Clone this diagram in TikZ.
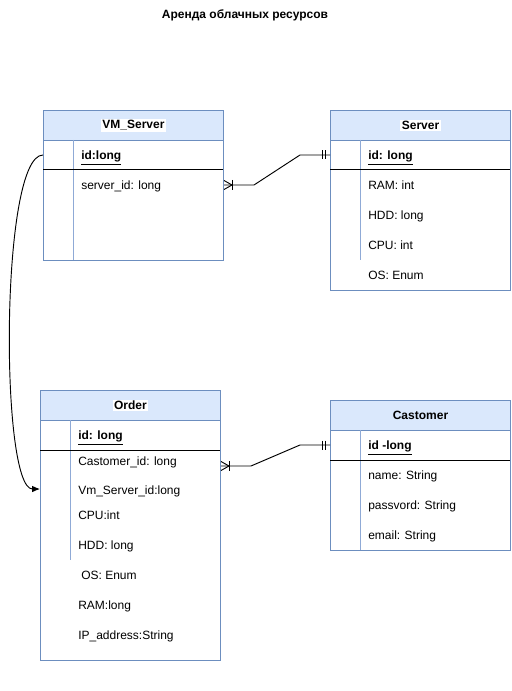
\documentclass[tikz,border=0pt]{standalone}
\usepackage{fontspec}
\setmainfont{Liberation Sans}
\usetikzlibrary{arrows.meta,calc}
\definecolor{hdrfill}{HTML}{DAE8FC}
\definecolor{hdrline}{HTML}{6C8EBF}
\definecolor{innerline}{HTML}{8FAAD6}

\begin{document}
\begin{tikzpicture}[x=0.75pt,y=-0.75pt,
  font=\fontsize{9}{11}\selectfont,
  tbl/.style={draw=hdrline, line width=0.75pt, fill=white, inner sep=0pt, anchor=north west},
  hdr/.style={draw=hdrline, line width=0.75pt, fill=hdrfill, inner sep=0pt, anchor=north west, minimum height=22.5pt},
  htitle/.style={font=\fontsize{9}{11}\selectfont\bfseries, inner sep=1pt},
  htitlebg/.style={htitle, fill=white},
  row/.style={anchor=base west, inner sep=0pt},
  sep/.style={draw=black, line width=0.75pt},
  innerv/.style={draw=innerline, line width=0.75pt},
  conn/.style={draw=black, line width=0.7pt},
  erbar/.style={draw=black, line width=0.7pt}]
\useasboundingbox (0,0) rectangle (511,691);

% title
\node[htitle] (title) at (245,15) {Аренда облачных ресурсов};

% ---------- VM_Server ----------
\node[tbl, minimum width=135pt, minimum height=112.5pt] (vm) at (43,110) {};
\node[hdr, minimum width=135pt] (vmh) at (43,110) {};
\node[htitlebg] at (vmh) {VM\_Server};
\draw[innerv] (73,140) -- (73,260);
\draw[sep] (43,170) -- (223,170);
\node[row] (vm1) at (81,159.5) {\textbf{\underline{id:long}}};
\node[row] (vm2) at (81,189.5) {server\_id: long};

% ---------- Server ----------
\node[tbl, minimum width=135pt, minimum height=135pt] (sv) at (330,110) {};
\node[hdr, minimum width=135pt] (svh) at (330,110) {};
\node[htitlebg] at (svh) {Server};
\draw[innerv] (360,140) -- (360,260);
\draw[sep] (330,170) -- (510,170);
\node[row] (sv1) at (368,159.5) {\textbf{\underline{id: long}}};
\node[row] (sv2) at (368,189.5) {RAM: int};
\node[row] (sv3) at (368,219.5) {HDD: long};
\node[row] (sv4) at (368,249.5) {CPU: int};
\node[row] (sv5) at (368,279.5) {OS: Enum};

% ---------- Order ----------
\node[tbl, minimum width=135pt, minimum height=202.5pt] (od) at (40,390) {};
\node[hdr, minimum width=135pt] (odh) at (40,390) {};
\node[htitlebg] at (odh) {Order};
\draw[innerv] (70,420) -- (70,560);
\draw[sep] (40,450) -- (220,450);
\node[row] (od1) at (78,439.5) {\textbf{\underline{id: long}}};
\node[row] (od2) at (78,465.5) {Castomer\_id: long};
\node[row] (od3) at (78,494.5) {Vm\_Server\_id:long};
\node[row] (od4) at (78,519.5) {CPU:int};
\node[row] (od5) at (78,549.5) {HDD: long};
\node[row] (od6) at (81,579.5) {OS: Enum};
\node[row] (od7) at (78,609.5) {RAM:long};
\node[row] (od8) at (78,639.5) {IP\_address:String};

% ---------- Castomer ----------
\node[tbl, minimum width=135pt, minimum height=112.5pt] (cu) at (330,400) {};
\node[hdr, minimum width=135pt] (cuh) at (330,400) {};
\node[htitle] at (cuh) {Castomer};
\draw[innerv] (360,430) -- (360,550);
\draw[sep] (330,460) -- (510,460);
\node[row] (cu1) at (368,449.5) {\textbf{\underline{id -long}}};
\node[row] (cu2) at (368,479.5) {name: String};
\node[row] (cu3) at (368,509.5) {passvord: String};
\node[row] (cu4) at (368,539.5) {email: String};

% ---------- relations ----------
% VM_Server.server_id  >|----||  Server.id
\coordinate (a1) at ($(vm2.base -| vm.east)+(0,-4.5)$);
\coordinate (b1) at ($(sv1.base -| sv.west)+(0,-4.5)$);
\draw[conn] (a1) -- ++(30,0) -- ($(b1)+(-30,0)$) -- (b1);
\draw[erbar] ($(a1)+(0,-4.5)$) -- ($(a1)+(8,0)$) -- ($(a1)+(0,4.5)$);
\draw[erbar] ($(a1)+(8,-5)$) -- ($(a1)+(8,5)$);
\draw[erbar] ($(b1)+(-8,-4.5)$) -- ($(b1)+(-8,4.5)$);
\draw[erbar] ($(b1)+(-5,-4.5)$) -- ($(b1)+(-5,4.5)$);

% Order.Castomer_id  >|----||  Castomer.id
\coordinate (a2) at ($(od2.base -| od.east)+(0,0.5)$);
\coordinate (b2) at ($(cu1.base -| cu.west)+(0,-4.5)$);
\draw[conn] (a2) -- ++(30,0) -- ($(b2)+(-30,0)$) -- (b2);
\draw[erbar] ($(a2)+(0,-4.5)$) -- ($(a2)+(8,0)$) -- ($(a2)+(0,4.5)$);
\draw[erbar] ($(a2)+(8,-5)$) -- ($(a2)+(8,5)$);
\draw[erbar] ($(b2)+(-8,-4.5)$) -- ($(b2)+(-8,4.5)$);
\draw[erbar] ($(b2)+(-5,-4.5)$) -- ($(b2)+(-5,4.5)$);

% VM_Server.id  ---->  Order.Vm_Server_id
\coordinate (a3) at ($(vm1.base -| vm.west)+(0,-4.5)$);
\coordinate (b3) at ($(od3.base -| od.west)+(0,-5.5)$);
\draw[conn, -{Latex[length=6pt,width=5pt]}] (a3) .. controls (0,155) and (0,489) .. (b3);
\end{tikzpicture}
\end{document}
